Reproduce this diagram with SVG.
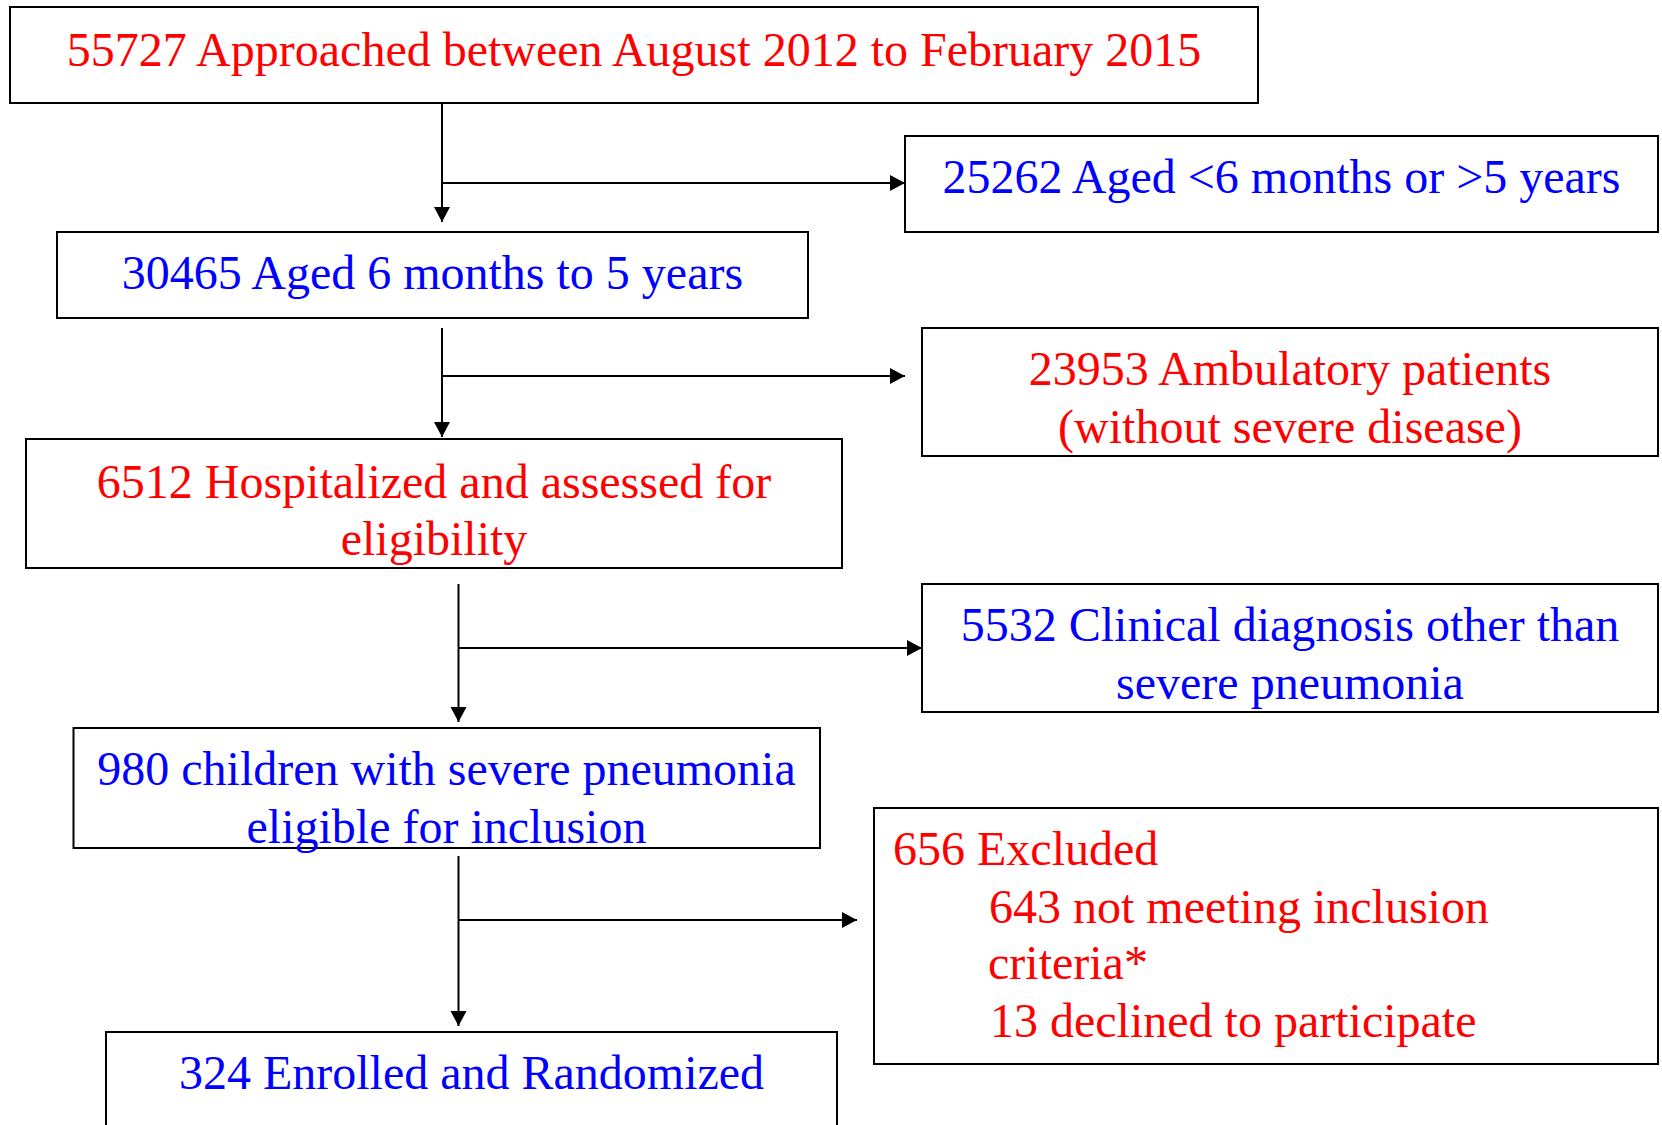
<svg xmlns="http://www.w3.org/2000/svg" width="1662" height="1125" viewBox="0 0 1662 1125">
<style>
.box{fill:#ffffff;stroke:#000000;stroke-width:2}
.t{font-family:"Liberation Serif","Times New Roman",serif;font-size:48px}
.r{fill:#ff0000}
.b{fill:#0000ff}
.c{text-anchor:middle}
.ln{fill:none;stroke:#000000;stroke-width:2}
</style>
<defs>
<marker id="ah" markerUnits="userSpaceOnUse" markerWidth="18" markerHeight="18" refX="15" refY="9" orient="auto">
<path d="M0,1 L15,9 L0,17 z" fill="#000000"/>
</marker>
</defs>
<rect x="0" y="0" width="1662" height="1125" fill="#ffffff"/>
<g id="connectors">
<path class="ln" d="M442,103 V222" marker-end="url(#ah)"/>
<path class="ln" d="M442,183 H905" marker-end="url(#ah)"/>
<path class="ln" d="M442,328 V437" marker-end="url(#ah)"/>
<path class="ln" d="M442,376 H905" marker-end="url(#ah)"/>
<path class="ln" d="M458.5,584 V722" marker-end="url(#ah)"/>
<path class="ln" d="M458.5,648 H922" marker-end="url(#ah)"/>
<path class="ln" d="M458.5,856 V1026" marker-end="url(#ah)"/>
<path class="ln" d="M458.5,920 H857" marker-end="url(#ah)"/>
</g>
<g id="n1">
<rect class="box" x="10" y="7" width="1248" height="96"/>
<text class="t r c" x="634" y="66">55727 Approached between August 2012 to February 2015</text>
</g>
<g id="n2">
<rect class="box" x="905" y="136" width="753" height="96"/>
<text class="t b c" x="1281.5" y="193">25262 Aged &lt;6 months or &gt;5 years</text>
</g>
<g id="n3">
<rect class="box" x="57" y="232" width="751" height="86"/>
<text class="t b c" x="432.5" y="289">30465 Aged 6 months to 5 years</text>
</g>
<g id="n4">
<rect class="box" x="922" y="328" width="736" height="128"/>
<text class="t r c" x="1290" y="385">23953 Ambulatory patients</text>
<text class="t r c" x="1290" y="443">(without severe disease)</text>
</g>
<g id="n5">
<rect class="box" x="26" y="439" width="816" height="129"/>
<text class="t r c" x="434" y="498">6512 Hospitalized and assessed for</text>
<text class="t r c" x="434" y="555">eligibility</text>
</g>
<g id="n6">
<rect class="box" x="922" y="584" width="736" height="128"/>
<text class="t b c" x="1290" y="641">5532 Clinical diagnosis other than</text>
<text class="t b c" x="1290" y="699">severe pneumonia</text>
</g>
<g id="n7">
<rect class="box" x="73.5" y="728" width="746.5" height="120"/>
<text class="t b c" x="446.5" y="785">980 children with severe pneumonia</text>
<text class="t b c" x="446.5" y="843">eligible for inclusion</text>
</g>
<g id="n8">
<rect class="box" x="874" y="808" width="784" height="256"/>
<text class="t r" x="893" y="865">656 Excluded</text>
<text class="t r" x="989" y="923">643 not meeting inclusion</text>
<text class="t r" x="988" y="979">criteria*</text>
<text class="t r" x="990" y="1037">13 declined to participate</text>
</g>
<g id="n9">
<rect class="box" x="106" y="1032" width="731" height="120"/>
<text class="t b c" x="471.5" y="1089">324 Enrolled and Randomized</text>
</g>
</svg>
